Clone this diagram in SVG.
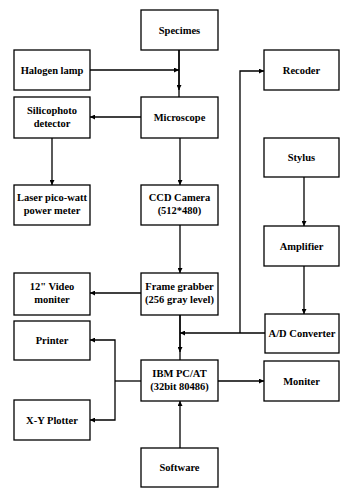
<svg xmlns="http://www.w3.org/2000/svg" width="340" height="489" viewBox="0 0 340 489">
<defs>
<style>
.box{fill:#fff;stroke:#000;stroke-width:1.3}
.t{font-family:"Liberation Serif","DejaVu Serif",serif;font-weight:bold;font-size:10.5px;text-anchor:middle;fill:#000}
.c{fill:none;stroke:#000;stroke-width:1.3}
.a{marker-end:url(#ah)}
</style>
<marker id="ah" viewBox="0 0 10 10" refX="10" refY="5" markerWidth="6" markerHeight="5" markerUnits="userSpaceOnUse" orient="auto">
<path d="M0,0 L10,5 L0,10 Z" fill="#000"/>
</marker>
</defs>
<rect width="340" height="489" fill="#fff"/>
<g id="connectors">
<path class="c" d="M179,50 V97"/>
<path class="c a" d="M179,50 V90"/>
<path class="c a" d="M90,70 H179"/>
<path class="c a" d="M141,117 H90"/>
<path class="c a" d="M52,138 V185"/>
<path class="c a" d="M180,138 V185"/>
<path class="c a" d="M180,225 V273"/>
<path class="c a" d="M141,293 H90"/>
<path class="c" d="M180,315 V360"/>
<path class="c a" d="M180,315 V352"/>
<path class="c a" d="M265,333 H180"/>
<path class="c a" d="M240,333 V71 H264"/>
<path class="c a" d="M304,177 V226"/>
<path class="c a" d="M304,266 V314"/>
<path class="c" d="M141,381 H115"/>
<path class="c a" d="M115,381 V340 H90"/>
<path class="c a" d="M115,381 V420 H90"/>
<path class="c a" d="M218,381 H264"/>
<path class="c a" d="M180,448 V401"/>
</g>
<g id="specimes"><rect class="box" x="141" y="10" width="77" height="40"/><text class="t" x="179.5" y="34">Specimes</text></g>
<g id="halogen"><rect class="box" x="14" y="50" width="76" height="40"/><text class="t" x="52" y="74">Halogen lamp</text></g>
<g id="silicophoto"><rect class="box" x="14" y="97" width="76" height="41"/><text class="t" x="52" y="114">Silicophoto</text><text class="t" x="52" y="127">detector</text></g>
<g id="microscope"><rect class="box" x="141" y="97" width="77" height="41"/><text class="t" x="179.5" y="121">Microscope</text></g>
<g id="recoder"><rect class="box" x="264" y="50" width="75" height="40"/><text class="t" x="301.5" y="74">Recoder</text></g>
<g id="stylus"><rect class="box" x="264" y="138" width="75" height="39"/><text class="t" x="301.5" y="161">Stylus</text></g>
<g id="laser"><rect class="box" x="14" y="185" width="76" height="40"/><text class="t" x="52" y="201">Laser pico-watt</text><text class="t" x="52" y="214">power meter</text></g>
<g id="ccd"><rect class="box" x="141" y="185" width="77" height="40"/><text class="t" x="179.5" y="201">CCD Camera</text><text class="t" x="179.5" y="214">(512*480)</text></g>
<g id="amplifier"><rect class="box" x="264" y="226" width="75" height="40"/><text class="t" x="301.5" y="250">Amplifier</text></g>
<g id="video"><rect class="box" x="14" y="273" width="76" height="42"/><text class="t" x="52" y="290">12" Video</text><text class="t" x="52" y="303">moniter</text></g>
<g id="frame"><rect class="box" x="141" y="273" width="77" height="42"/><text class="t" x="179.5" y="290">Frame grabber</text><text class="t" x="179.5" y="303">(256 gray level)</text></g>
<g id="adc"><rect class="box" x="265" y="314" width="74" height="39"/><text class="t" x="302" y="337">A/D Converter</text></g>
<g id="printer"><rect class="box" x="14" y="321" width="76" height="39"/><text class="t" x="52" y="344">Printer</text></g>
<g id="ibm"><rect class="box" x="141" y="360" width="77" height="41"/><text class="t" x="179.5" y="377">IBM PC/AT</text><text class="t" x="179.5" y="390">(32bit 80486)</text></g>
<g id="monitor"><rect class="box" x="264" y="361" width="75" height="40"/><text class="t" x="301.5" y="385">Moniter</text></g>
<g id="plotter"><rect class="box" x="14" y="400" width="76" height="40"/><text class="t" x="52" y="424">X-Y Plotter</text></g>
<g id="software"><rect class="box" x="141" y="448" width="77" height="39"/><text class="t" x="179.5" y="471">Software</text></g>
</svg>
